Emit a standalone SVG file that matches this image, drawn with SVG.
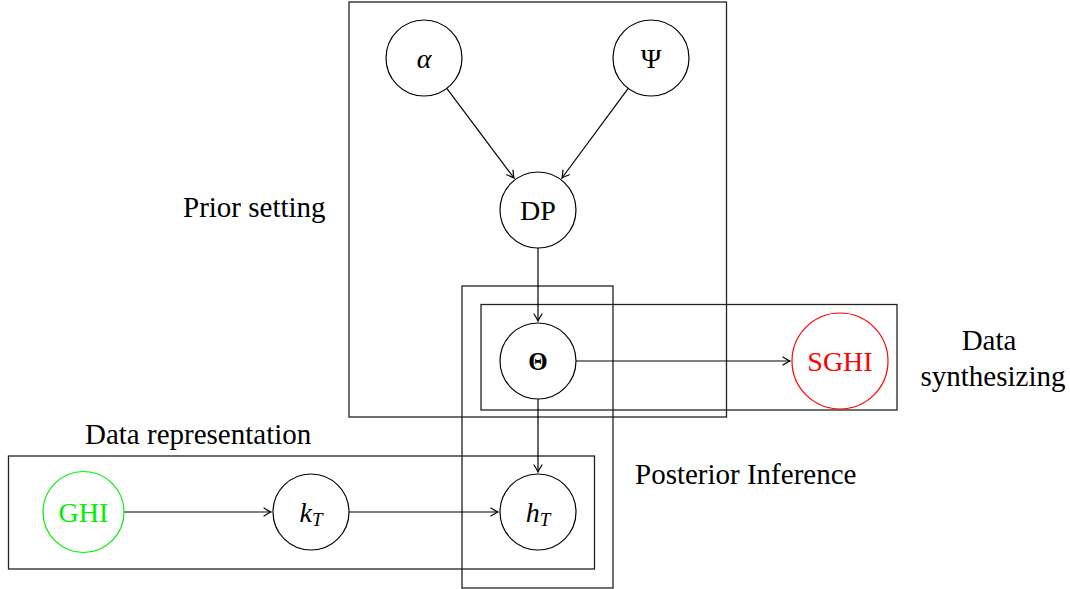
<svg xmlns="http://www.w3.org/2000/svg" width="1070" height="589" viewBox="0 0 1070 589">
<style>
.plate{fill:none;stroke:#222;stroke-width:1.3}
.node{fill:#fff;stroke-width:1.2}
.lbl{font-size:29px}
.nl{font-size:28px;text-anchor:middle;dominant-baseline:central}
.edge{fill:none;stroke:#000;stroke-width:1.2}
</style>
<defs>
<marker id="arr" viewBox="-10 -6 12 12" refX="0" refY="0" markerWidth="12" markerHeight="12" markerUnits="userSpaceOnUse" orient="auto">
<path d="M-7,-4 Q-2,-0.8 0,0 Q-2,0.8 -7,4" fill="none" stroke="#000" stroke-width="1.2" stroke-linecap="round"/>
</marker>
</defs>
<rect width="1070" height="589" fill="#fff"/>
<g font-family="Liberation Serif, Tinos, Times New Roman, DejaVu Serif, serif">
<g id="plates">
<rect class="plate" x="349" y="2" width="377.5" height="415"/>
<rect class="plate" x="462" y="286" width="151" height="302"/>
<rect class="plate" x="481" y="304.5" width="416" height="105.5"/>
<rect class="plate" x="8.5" y="456" width="586" height="113"/>
</g>
<g id="plate-labels">
<text class="lbl" x="183" y="217">Prior setting</text>
<text class="lbl" x="635" y="484">Posterior Inference</text>
<text class="lbl" x="85" y="444">Data representation</text>
<text class="lbl" x="989" y="350" text-anchor="middle">Data</text>
<text class="lbl" x="993" y="386" text-anchor="middle">synthesizing</text>
</g>
<g id="connectors">
<line class="edge" x1="446.8" y1="88.4" x2="514" y2="178" marker-end="url(#arr)"/>
<line class="edge" x1="628.2" y1="88.4" x2="562" y2="178" marker-end="url(#arr)"/>
<line class="edge" x1="538" y1="248" x2="538" y2="321" marker-end="url(#arr)"/>
<line class="edge" x1="576" y1="361" x2="790" y2="361" marker-end="url(#arr)"/>
<line class="edge" x1="538" y1="399" x2="538" y2="472" marker-end="url(#arr)"/>
<line class="edge" x1="124" y1="512" x2="271" y2="512" marker-end="url(#arr)"/>
<line class="edge" x1="349" y1="512" x2="498" y2="512" marker-end="url(#arr)"/>
</g>
<g id="alpha"><circle class="node" stroke="#000" cx="424" cy="58" r="38"/><text class="nl" x="424" y="58" font-style="italic">α</text></g>
<g id="psi"><circle class="node" stroke="#000" cx="651" cy="58" r="38"/><text class="nl" x="651" y="58">Ψ</text></g>
<g id="dp"><circle class="node" stroke="#000" cx="538" cy="210" r="38"/><text class="nl" x="538" y="210">DP</text></g>
<g id="theta"><circle class="node" stroke="#000" cx="538" cy="361" r="38"/><text class="nl" x="538" y="361" style="font-size:25px;font-weight:bold">Θ</text></g>
<g id="sghi"><circle class="node" stroke="#f00" cx="840" cy="361" r="48"/><text class="nl" x="840" y="361" fill="#f00">SGHI</text></g>
<g id="ghi"><circle class="node" stroke="#00f000" cx="83.5" cy="512" r="40.5"/><text class="nl" x="83.5" y="512" fill="#00f000">GHI</text></g>
<g id="kT"><circle class="node" stroke="#000" cx="311" cy="512" r="38"/><text class="nl" x="311" y="512"><tspan font-style="italic">k</tspan><tspan font-style="italic" style="font-size:19px" dy="7">T</tspan></text></g>
<g id="hT"><circle class="node" stroke="#000" cx="538" cy="512" r="38"/><text class="nl" x="538" y="512"><tspan font-style="italic">h</tspan><tspan font-style="italic" style="font-size:19px" dy="7">T</tspan></text></g>
</g>
</svg>
